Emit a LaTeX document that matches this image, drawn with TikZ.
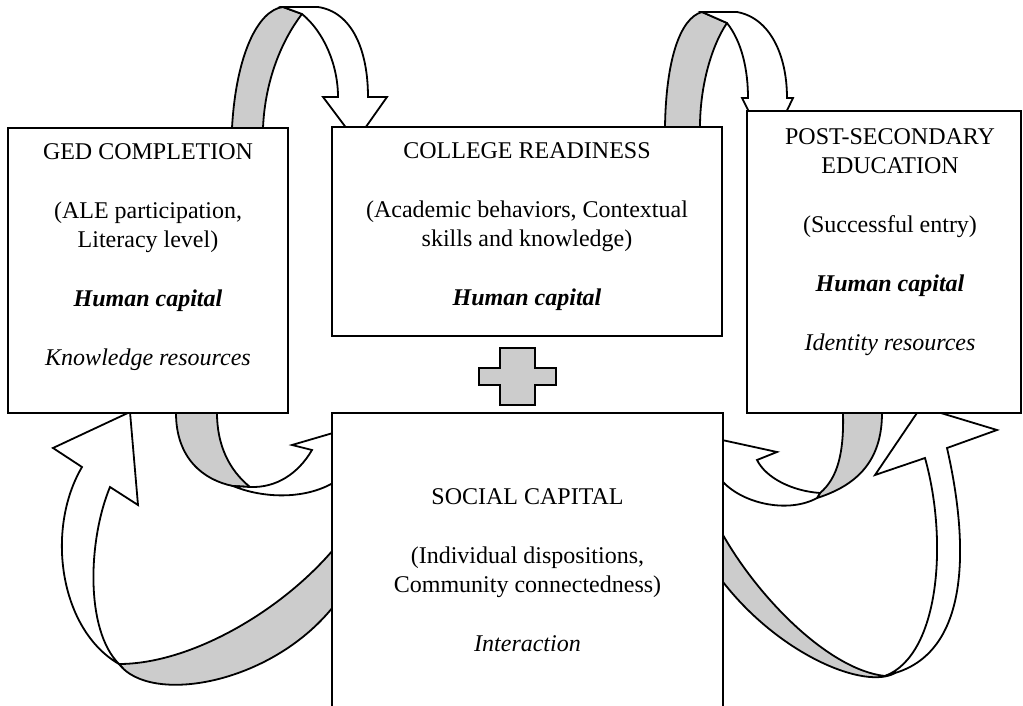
\documentclass[tikz,border=0pt]{standalone}
\usepackage{fontspec}
\setmainfont{Liberation Serif}
\usetikzlibrary{positioning}
\tikzstyle{box} = [draw, line width=0.9pt, fill=white, inner sep=0pt, outer sep=0pt]
\tikzstyle{boxtext} = [align=center, inner sep=0pt, font=\fontsize{12}{14.75}\selectfont]
\tikzstyle{back} = [draw, line width=0.9pt, fill=black!20, line join=round]
\tikzstyle{front} = [draw, line width=0.9pt, fill=white]

\begin{document}
\begin{tikzpicture}[x=0.5pt,y=-0.5pt]
\useasboundingbox (0,0) rectangle (1023,706);
% ribbon arrows over the top
\draw[back] (232,135) -- (232,128) .. controls (236,55) and (258,10) .. (283,7) -- (302,14) .. controls (282,40) and (265,80) .. (263,128) -- (263,135) -- cycle;
\draw[front] (283,7) -- (318,7) .. controls (352,12) and (368,50) .. (368,97) -- (387,97) -- (356,141) -- (323,97) -- (338,97) .. controls (338,65) and (324,32) .. (302,14) -- cycle;
\draw[back] (665,135) -- (665,127) .. controls (666,60) and (680,18) .. (702,12) -- (727,23) .. controls (712,45) and (700,85) .. (700,127) -- (700,135) -- cycle;
\draw[front] (702,12) -- (737,12) .. controls (770,18) and (787,55) .. (787,98) -- (793,98) -- (768,150) -- (742,98) -- (748,98) .. controls (748,70) and (742,42) .. (727,23) -- cycle;
% ribbon arrows below, left side
\draw[back] (176,405) -- (176,413) .. controls (176,458) and (203,480) .. (233,486) -- (250,487) .. controls (229,470) and (217,445) .. (217,413) -- (217,405) -- cycle;
\draw[front] (233,486) .. controls (262,498) and (303,500) .. (333,483) -- (345,476) -- (350,428) -- (292,445) -- (312,450) .. controls (298,474) and (276,488) .. (250,487) -- cycle;
\draw[back] (345,538) -- (333,550) .. controls (280,612) and (190,664) .. (119,664) .. controls (150,705) and (270,685) .. (333,607) -- (345,598) -- cycle;
\draw[front] (119,664) .. controls (60,630) and (45,530) .. (82,467) -- (53,448) -- (130,412) -- (138,505) -- (110,487) .. controls (88,540) and (85,630) .. (119,664) -- cycle;
% ribbon arrows below, right side
\draw[back] (843,405) -- (843,413) .. controls (844,452) and (838,478) .. (820,493) -- (817,498) .. controls (858,485) and (882,460) .. (882,413) -- (882,405) -- cycle;
\draw[front] (820,493) .. controls (792,491) and (766,478) .. (757,460) -- (777,452) -- (690,433) -- (700,478) -- (723,482) .. controls (745,505) and (790,513) .. (817,498) -- cycle;
\draw[back] (715,525) -- (723,535) .. controls (760,600) and (830,670) .. (885,676) -- (895,673) .. controls (865,690) and (780,655) .. (723,582) -- (715,572) -- cycle;
\draw[front] (885,676) .. controls (940,655) and (948,540) .. (925,458) -- (875,475) -- (921,407) -- (997,430) -- (947,448) .. controls (968,540) and (972,650) .. (895,673) -- cycle;
% plus sign
\draw[back, line join=miter] (500,348) -- (535,348) -- (535,368) -- (556,368) -- (556,385) -- (535,385) -- (535,405) -- (500,405) -- (500,385) -- (479,385) -- (479,368) -- (500,368) -- cycle;

\node[box, minimum width=140pt, minimum height=142.5pt] (ged) at (148,270.5) {};
\node[box, minimum width=195pt, minimum height=104.5pt] (college) at (527,231.5) {};
\node[box, minimum width=137pt, minimum height=151pt] (post) at (884,262) {};
\node[box, minimum width=195.5pt, minimum height=149.5pt] (social) at (527.5,562.5) {};

\node[boxtext, below=7.5pt of ged.north] (gedtext) {GED COMPLETION\\[14.75pt] (ALE participation,\\ Literacy level)\\[14.75pt] \textbf{\textit{Human capital}}\\[14.75pt] \textit{Knowledge resources}};
\node[boxtext, below=7.5pt of college.north] (collegetext) {COLLEGE READINESS\\[14.75pt] (Academic behaviors, Contextual\\ skills and knowledge)\\[14.75pt] \textbf{\textit{Human capital}}};
\node[boxtext, below=8.5pt of post.north, xshift=3pt] (posttext) {POST-SECONDARY\\ EDUCATION\\[14.75pt] (Successful entry)\\[14.75pt] \textbf{\textit{Human capital}}\\[14.75pt] \textit{Identity resources}};
\node[boxtext, below=37.5pt of social.north] (socialtext) {SOCIAL CAPITAL\\[14.75pt] (Individual dispositions,\\ Community connectedness)\\[14.75pt] \textit{Interaction}};
\end{tikzpicture}
\end{document}
